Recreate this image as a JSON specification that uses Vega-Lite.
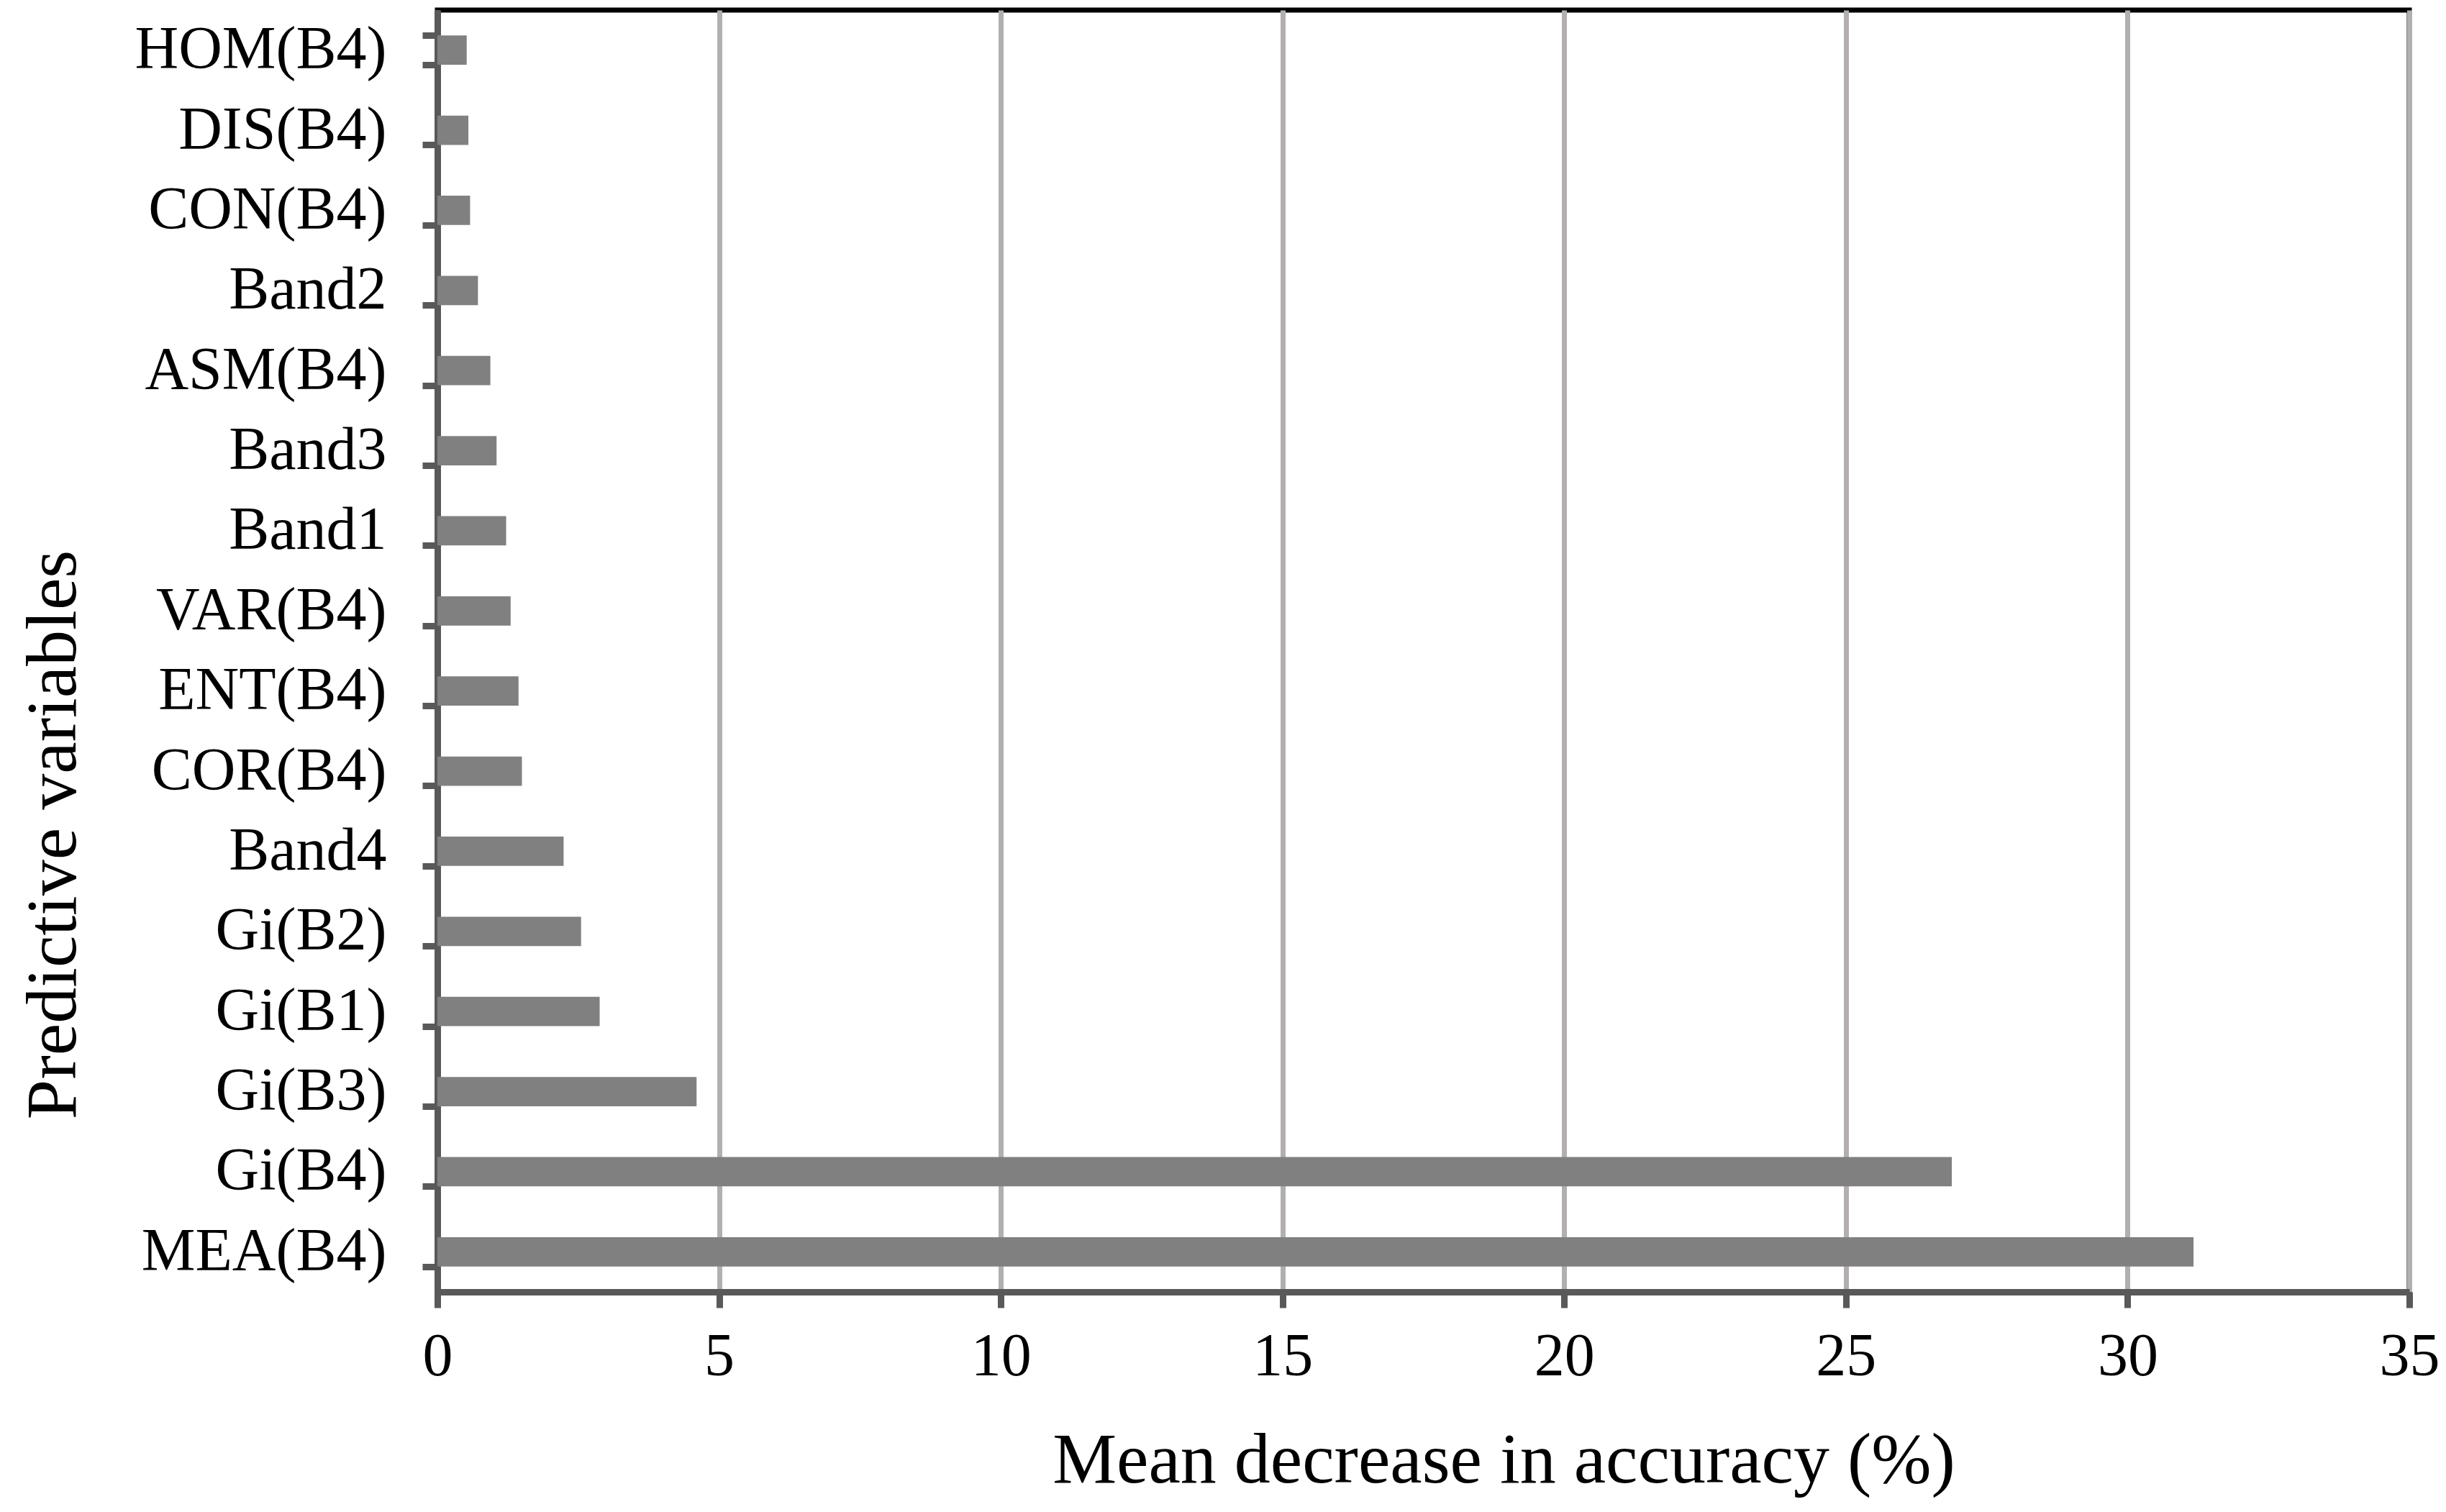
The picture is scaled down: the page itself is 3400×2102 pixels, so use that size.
{
  "$schema": "https://vega.github.io/schema/vega-lite/v6.json",
  "autosize": "none",
  "padding": {"left": 608, "top": 14, "right": 51, "bottom": 306},
  "width": 2741,
  "height": 1782,
  "background": "white",
  "config": {
    "view": {"stroke": "black", "strokeWidth": 7},
    "font": "Liberation Serif"
  },
  "data": {
    "values": [
      {"variable": "HOM(B4)", "value": 0.52},
      {"variable": "DIS(B4)", "value": 0.55},
      {"variable": "CON(B4)", "value": 0.58},
      {"variable": "Band2", "value": 0.72},
      {"variable": "ASM(B4)", "value": 0.94},
      {"variable": "Band3", "value": 1.05},
      {"variable": "Band1", "value": 1.22},
      {"variable": "VAR(B4)", "value": 1.30},
      {"variable": "ENT(B4)", "value": 1.44},
      {"variable": "COR(B4)", "value": 1.50},
      {"variable": "Band4", "value": 2.24},
      {"variable": "Gi(B2)", "value": 2.55},
      {"variable": "Gi(B1)", "value": 2.88},
      {"variable": "Gi(B3)", "value": 4.60},
      {"variable": "Gi(B4)", "value": 26.88},
      {"variable": "MEA(B4)", "value": 31.17}
    ]
  },
  "mark": {"type": "bar", "color": "#808080"},
  "encoding": {
    "y": {
      "field": "variable",
      "type": "nominal",
      "sort": null,
      "scale": {"paddingInner": 0.634, "paddingOuter": 0.317},
      "axis": {
        "title": "Predictive variables",
        "titleFont": "Liberation Serif",
        "titleFontSize": 100,
        "titleFontWeight": "normal",
        "titleColor": "black",
        "titleAngle": -90,
        "titleAlign": "center",
        "titleBaseline": "alphabetic",
        "titleX": -504,
        "titleY": 1146,
        "labelFont": "Liberation Serif",
        "labelFontSize": 84,
        "labelColor": "black",
        "labelPadding": 50,
        "labelLimit": 0,
        "tickBand": "extent",
        "tickSize": 21,
        "tickWidth": 9,
        "tickColor": "#595959",
        "domainColor": "#595959",
        "domainWidth": 9,
        "grid": false
      }
    },
    "x": {
      "field": "value",
      "type": "quantitative",
      "scale": {"domain": [0, 35], "nice": false, "zero": true},
      "axis": {
        "title": "Mean decrease in accuracy (%)",
        "titleFont": "Liberation Serif",
        "titleFontSize": 100,
        "titleFontWeight": "normal",
        "titleColor": "black",
        "titleAlign": "center",
        "titleBaseline": "alphabetic",
        "titleX": 1482,
        "titleY": 264,
        "values": [0, 5, 10, 15, 20, 25, 30, 35],
        "labelFont": "Liberation Serif",
        "labelFontSize": 84,
        "labelColor": "black",
        "labelPadding": 27,
        "labelFlush": false,
        "labelOverlap": false,
        "tickSize": 22,
        "tickWidth": 9,
        "tickColor": "#595959",
        "domainColor": "#595959",
        "domainWidth": 9,
        "grid": true,
        "gridColor": "#b3afaf",
        "gridWidth": 7
      }
    }
  }
}
